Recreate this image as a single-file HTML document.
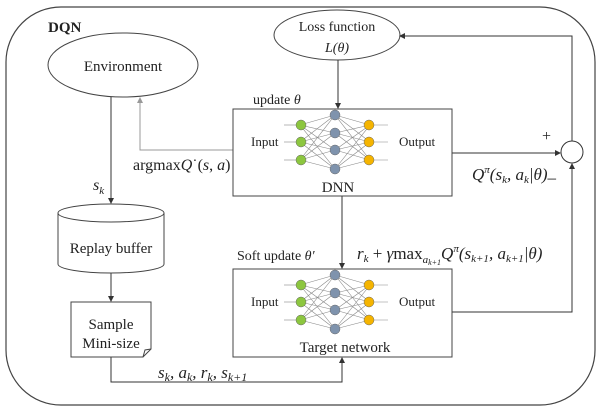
<!DOCTYPE html>
<html><head><meta charset="utf-8"><style>
html,body{margin:0;padding:0;background:#fff;}
svg{display:block;}
text{font-family:"Liberation Serif",serif;fill:#222;}
.it{font-style:italic;}
</style></head><body>
<svg width="600" height="411" viewBox="0 0 600 411" xmlns="http://www.w3.org/2000/svg">
<defs>
<marker id="a" markerWidth="6" markerHeight="6" refX="5" refY="3" orient="auto" markerUnits="userSpaceOnUse"><path d="M0,0 L6,3 L0,6 z" fill="#333"/></marker>
<marker id="g" markerWidth="6" markerHeight="6" refX="5" refY="3" orient="auto" markerUnits="userSpaceOnUse"><path d="M0,0 L6,3 L0,6 z" fill="#999"/></marker>
<g id="nn">
<g stroke="#888" stroke-width="0.6">
<line x1="284" y1="125" x2="300" y2="125"/><line x1="284" y1="142" x2="300" y2="142"/><line x1="284" y1="160" x2="300" y2="160"/>
<line x1="370" y1="125" x2="388" y2="125"/><line x1="370" y1="142" x2="388" y2="142"/><line x1="370" y1="160" x2="388" y2="160"/>
<path d="M300,125L335,115M300,125L335,133M300,125L335,150M300,125L335,169M300,142L335,115M300,142L335,133M300,142L335,150M300,142L335,169M300,160L335,115M300,160L335,133M300,160L335,150M300,160L335,169M370,125L335,115M370,125L335,133M370,125L335,150M370,125L335,169M370,142L335,115M370,142L335,133M370,142L335,150M370,142L335,169M370,160L335,115M370,160L335,133M370,160L335,150M370,160L335,169"/>
</g>
<g stroke="#666" stroke-width="0.5">
<circle cx="301" cy="125" r="5" fill="#8cc63f"/><circle cx="301" cy="142" r="5" fill="#8cc63f"/><circle cx="301" cy="160" r="5" fill="#8cc63f"/>
<circle cx="335" cy="115" r="5" fill="#7f93ad"/><circle cx="335" cy="133" r="5" fill="#7f93ad"/><circle cx="335" cy="150" r="5" fill="#7f93ad"/><circle cx="335" cy="169" r="5" fill="#7f93ad"/>
<circle cx="369" cy="125" r="5" fill="#f5b400"/><circle cx="369" cy="142" r="5" fill="#f5b400"/><circle cx="369" cy="160" r="5" fill="#f5b400"/>
</g>
</g>
</defs>
<rect x="6" y="7" width="589" height="398" rx="55" ry="55" fill="none" stroke="#444" stroke-width="1.2"/>
<text x="48" y="32" font-size="15" font-weight="bold">DQN</text>

<ellipse cx="123" cy="65" rx="75" ry="32" fill="#fff" stroke="#444"/>
<text x="123" y="71" font-size="15" text-anchor="middle">Environment</text>

<ellipse cx="337" cy="35" rx="63" ry="25" fill="#fff" stroke="#444"/>
<text x="337" y="31" font-size="14" text-anchor="middle">Loss function</text>
<text x="337" y="52" font-size="14" text-anchor="middle" class="it">L(θ)</text>

<!-- connectors -->
<line x1="338" y1="60" x2="338" y2="108" stroke="#333" marker-end="url(#a)"/>
<polyline points="572,141 572,36 400,36" fill="none" stroke="#333" marker-end="url(#a)"/>
<line x1="452" y1="153" x2="560" y2="153" stroke="#333" marker-end="url(#a)"/>
<polyline points="452,312 572,312 572,164" fill="none" stroke="#333" marker-end="url(#a)"/>
<circle cx="572" cy="152" r="11" fill="#fff" stroke="#333"/>
<polyline points="233,150 140,150 140,98" fill="none" stroke="#999" marker-end="url(#g)"/>
<line x1="111" y1="97" x2="111" y2="203" stroke="#333" marker-end="url(#a)"/>
<line x1="111" y1="273" x2="111" y2="301" stroke="#333" marker-end="url(#a)"/>
<polyline points="111,357 111,382 342,382 342,358" fill="none" stroke="#333" marker-end="url(#a)"/>
<line x1="342" y1="196" x2="342" y2="268" stroke="#333" marker-end="url(#a)"/>

<!-- DNN -->
<rect x="233" y="109" width="219" height="87" fill="#fff" stroke="#444"/>
<use href="#nn"/>
<text x="251" y="146" font-size="13">Input</text>
<text x="399" y="146" font-size="13">Output</text>
<text x="338" y="192" font-size="15" text-anchor="middle">DNN</text>
<text x="253" y="104" font-size="14">update <tspan class="it">θ</tspan></text>

<!-- Target -->
<rect x="233" y="269" width="219" height="88" fill="#fff" stroke="#444"/>
<use href="#nn" y="160"/>
<text x="251" y="306" font-size="13">Input</text>
<text x="399" y="306" font-size="13">Output</text>
<text x="345" y="352" font-size="15" text-anchor="middle">Target network</text>
<text x="237" y="260" font-size="14">Soft update <tspan class="it">θ′</tspan></text>

<!-- Cylinder -->
<path d="M58,213 L58,264 A53,9 0 0 0 164,264 L164,213" fill="#fff" stroke="#444"/>
<ellipse cx="111" cy="213" rx="53" ry="9" fill="#fff" stroke="#444"/>
<text x="111" y="253" font-size="15" text-anchor="middle">Replay buffer</text>

<!-- Sample -->
<path d="M71,302 L151,302 L151,349 L143,357 L71,357 Z" fill="#fff" stroke="#444"/>
<path d="M151,349 L145,350 L143,357" fill="none" stroke="#444"/>
<text x="111" y="329" font-size="15" text-anchor="middle">Sample</text>
<text x="111" y="348" font-size="15" text-anchor="middle">Mini-size</text>

<!-- labels -->
<text x="133" y="170" font-size="16">argmax<tspan class="it">Q</tspan>˙(<tspan class="it">s</tspan>, <tspan class="it">a</tspan>)</text>
<text x="93" y="190" font-size="16" class="it">s<tspan font-size="11" dy="4">k</tspan></text>
<text x="158" y="378" font-size="17" class="it">s<tspan font-size="12" dy="3">k</tspan><tspan dy="-3">, a</tspan><tspan font-size="12" dy="3">k</tspan><tspan dy="-3">, r</tspan><tspan font-size="12" dy="3">k</tspan><tspan dy="-3">, s</tspan><tspan font-size="12" dy="3">k+1</tspan></text>
<text x="472" y="180" font-size="17" class="it">Q<tspan font-size="11" dy="-7">π</tspan><tspan dy="7">(s</tspan><tspan font-size="11" dy="3">k</tspan><tspan dy="-3">, a</tspan><tspan font-size="11" dy="3">k</tspan><tspan dy="-3">|θ)</tspan><tspan font-style="normal" dy="3">–</tspan></text>
<text x="542" y="141" font-size="16">+</text>
<text x="357" y="259" font-size="17" class="it">r<tspan font-size="11" dy="3">k</tspan><tspan dy="-3" font-style="normal"> + </tspan>γ<tspan font-style="normal">max</tspan><tspan font-size="11" dy="4">a</tspan><tspan font-size="8" dy="2">k+1</tspan><tspan dy="-6">Q</tspan><tspan font-size="11" dy="-7">π</tspan><tspan dy="7">(s</tspan><tspan font-size="11" dy="3">k+1</tspan><tspan dy="-3">, a</tspan><tspan font-size="11" dy="3">k+1</tspan><tspan dy="-3">|θ)</tspan></text>
</svg>
</body></html>
